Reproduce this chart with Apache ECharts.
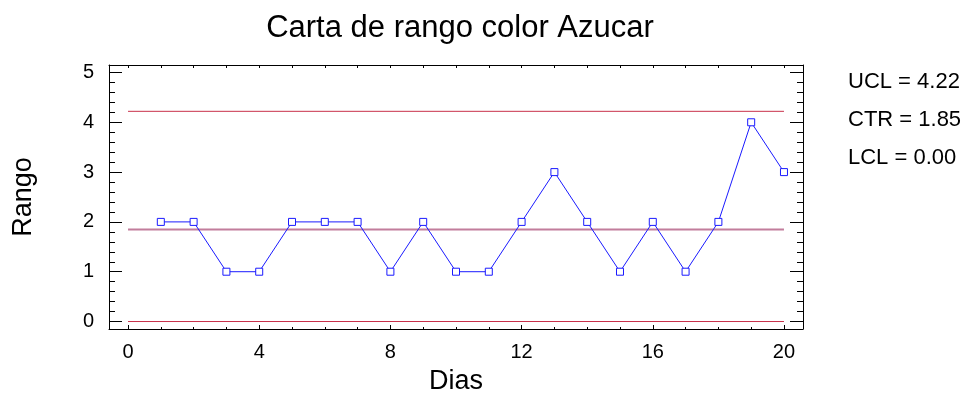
<!DOCTYPE html>
<html>
<head>
<meta charset="utf-8">
<title>Carta de rango color Azucar</title>
<script src="https://cdn.jsdelivr.net/npm/echarts@6/dist/echarts.min.js"></script>
<style>
  html, body { margin: 0; padding: 0; background: #fff; }
  #chart { width: 966px; height: 400px; }
</style>
</head>
<body>
<div id="chart"></div>
<script>
// Range chart data: one range value per day
const dias = [1, 2, 3, 4, 5, 6, 7, 8, 9, 10, 11, 12, 13, 14, 15, 16, 17, 18, 19, 20];
const rangos = [2, 2, 1, 1, 2, 2, 2, 1, 2, 1, 1, 2, 3, 2, 1, 2, 1, 2, 4, 3];

// Control limits
const ucl = 4.22;
const ctr = 1.85;
const lcl = 0.00;

// Axis ticks and labels
const xMajorTicks = [0, 4, 8, 12, 16, 20];
const xMinorTicks = [0, 1, 2, 3, 4, 5, 6, 7, 8, 9, 10, 11, 12, 13, 14, 15, 16, 17, 18, 19, 20];
const yMajorTicks = [0, 1, 2, 3, 4, 5];
const yMinorTicks = [0, 0.2, 0.4, 0.6, 0.8, 1, 1.2, 1.4, 1.6, 1.8, 2, 2.2, 2.4, 2.6, 2.8,
                     3, 3.2, 3.4, 3.6, 3.8, 4, 4.2, 4.4, 4.6, 4.8, 5];

const FONT = 'Liberation Sans, Arial, Helvetica, sans-serif';
const X_MIN = -0.58, X_MAX = 20.58;
const Y_MIN = -0.15, Y_MAX = 5.15;

const chart = echarts.init(document.getElementById('chart'), null, { renderer: 'canvas' });

const axisLineStyle = { show: true, onZero: false, lineStyle: { color: '#000', width: 1 } };
const hiddenLine = { show: false, onZero: false };

function xAxisDef(opts) {
  return Object.assign({
    type: 'value', min: X_MIN, max: X_MAX, gridIndex: 0,
    splitLine: { show: false },
    axisLine: hiddenLine,
    axisLabel: { show: false },
    axisTick: { show: false }
  }, opts);
}
function yAxisDef(opts) {
  return Object.assign({
    type: 'value', min: Y_MIN, max: Y_MAX, gridIndex: 0,
    splitLine: { show: false },
    axisLine: hiddenLine,
    axisLabel: { show: false },
    axisTick: { show: false }
  }, opts);
}

const limitLine = (value, color, width) => ({
  type: 'line',
  xAxisIndex: 0, yAxisIndex: 0,
  data: [[dias[0] - 1, value], [dias[dias.length - 1], value]],
  symbol: 'none',
  silent: true,
  lineStyle: { color: color, width: width },
  z: 1
});

const option = {
  animation: false,
  backgroundColor: '#ffffff',
  textStyle: { fontFamily: FONT },
  title: {
    text: 'Carta de rango color Azucar',
    left: 455,
    textAlign: 'center',
    top: 8,
    textStyle: { fontFamily: FONT, fontSize: 31, fontWeight: 'normal', color: '#000' }
  },
  grid: { left: 109, right: 163, top: 65, bottom: 70, containLabel: false },
  xAxis: [
    xAxisDef({
      position: 'bottom',
      axisLine: axisLineStyle,
      axisTick: { show: true, inside: true, length: 4, customValues: xMajorTicks, lineStyle: { color: '#000' } },
      axisLabel: { show: true, customValues: xMajorTicks, fontSize: 20, color: '#000', margin: 13, fontFamily: FONT },
      name: 'Dias',
      nameLocation: 'middle',
      nameGap: 39,
      nameTextStyle: { fontSize: 27, color: '#000', fontFamily: FONT }
    }),
    xAxisDef({
      position: 'bottom',
      axisTick: { show: true, inside: true, length: 2, customValues: xMinorTicks, lineStyle: { color: '#000' } }
    }),
    xAxisDef({
      position: 'top',
      axisLine: axisLineStyle,
      axisTick: { show: true, inside: true, length: 3, customValues: xMinorTicks, lineStyle: { color: '#000' } }
    })
  ],
  yAxis: [
    yAxisDef({
      position: 'left',
      axisLine: axisLineStyle,
      axisTick: { show: true, inside: true, length: 13, customValues: yMajorTicks, lineStyle: { color: '#000' } },
      axisLabel: { show: true, customValues: yMajorTicks, fontSize: 20, color: '#000', margin: 15, fontFamily: FONT },
      name: 'Rango',
      nameLocation: 'middle',
      nameGap: 72,
      nameRotate: 90,
      nameTextStyle: { fontSize: 27, color: '#000', fontFamily: FONT }
    }),
    yAxisDef({
      position: 'left',
      axisTick: { show: true, inside: true, length: 6, customValues: yMinorTicks, lineStyle: { color: '#000' } }
    }),
    yAxisDef({
      position: 'right',
      axisLine: axisLineStyle,
      axisTick: { show: true, inside: true, length: 13, customValues: yMajorTicks, lineStyle: { color: '#000' } }
    }),
    yAxisDef({
      position: 'right',
      axisTick: { show: true, inside: true, length: 6, customValues: yMinorTicks, lineStyle: { color: '#000' } }
    })
  ],
  series: [
    limitLine(ucl, '#c8304a', 1),
    limitLine(ctr, '#c27d9c', 2),
    limitLine(lcl, '#c8304a', 1),
    {
      type: 'line',
      name: 'Rango',
      xAxisIndex: 0, yAxisIndex: 0,
      data: dias.map((d, i) => [d, rangos[i]]),
      symbol: 'rect',
      symbolSize: 7,
      showAllSymbol: true,
      lineStyle: { color: '#1a1aff', width: 1 },
      itemStyle: { color: '#ffffff', borderColor: '#1a1aff', borderWidth: 1 },
      z: 3
    }
  ],
  graphic: [
    { type: 'text', left: 848, top: 71, style: { text: 'UCL = ' + ucl.toFixed(2), font: '22px ' + FONT, fill: '#000' } },
    { type: 'text', left: 848, top: 109, style: { text: 'CTR = ' + ctr.toFixed(2), font: '22px ' + FONT, fill: '#000' } },
    { type: 'text', left: 848, top: 147, style: { text: 'LCL = ' + lcl.toFixed(2), font: '22px ' + FONT, fill: '#000' } }
  ]
};

chart.setOption(option);
</script>
</body>
</html>
